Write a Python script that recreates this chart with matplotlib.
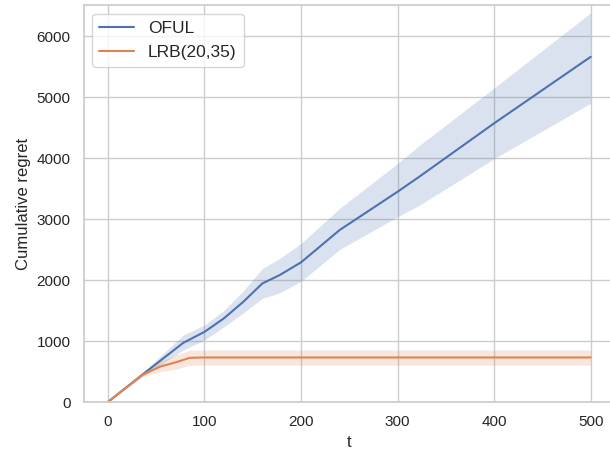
import matplotlib
matplotlib.use("Agg")
import matplotlib.pyplot as plt
import seaborn as sns
import numpy as np

# values at a few key time steps
t_oful = [0, 35, 78, 100, 120, 140, 160, 178, 200, 240, 300, 323, 400, 500]
oful_mean = [0, 440, 970, 1150, 1370, 1640, 1945, 2082, 2290, 2820, 3448, 3700, 4570, 5660]
oful_hi = [0, 470, 1100, 1262, 1500, 1820, 2190, 2355, 2600, 3175, 3912, 4213, 5150, 6382]
oful_lo = [0, 410, 852, 1016, 1230, 1460, 1700, 1790, 1980, 2500, 3038, 3230, 3990, 4900]

t_lrb = [0, 35, 54, 70, 85, 100, 300, 500]
lrb_mean = [0, 440, 580, 650, 725, 730, 730, 730]
lrb_hi = [0, 470, 670, 770, 850, 852, 852, 852]
lrb_lo = [0, 410, 495, 540, 600, 606, 606, 606]

sns.set_theme(style="whitegrid")
plt.rcParams['font.family'] = ['Liberation Sans', 'DejaVu Sans']

fig = plt.figure(figsize=(6.1, 4.51), dpi=100)
ax = fig.add_axes([83.8 / 610, 49 / 451, 531 / 610, 397 / 451])

blue, orange = sns.color_palette("deep")[0], sns.color_palette("deep")[1]

ax.plot(t_oful, oful_mean, color=blue, lw=1.5, label="OFUL")
ax.fill_between(t_oful, oful_lo, oful_hi, color=blue, alpha=0.2, lw=0)
ax.plot(t_lrb, lrb_mean, color=orange, lw=1.5, label="LRB(20,35)")
ax.fill_between(t_lrb, lrb_lo, lrb_hi, color=orange, alpha=0.2, lw=0)

ax.set_xlim(-25, 525)
ax.set_ylim(0, 6510)
ax.set_xticks([0, 100, 200, 300, 400, 500])
ax.set_yticks([0, 1000, 2000, 3000, 4000, 5000, 6000])
ax.tick_params(labelsize=11)
ax.set_xlabel("t", fontsize=12)
ax.set_ylabel("Cumulative regret", fontsize=12)
ax.legend(loc="upper left", fontsize=12.5)

fig.savefig("out.png", dpi=100)
